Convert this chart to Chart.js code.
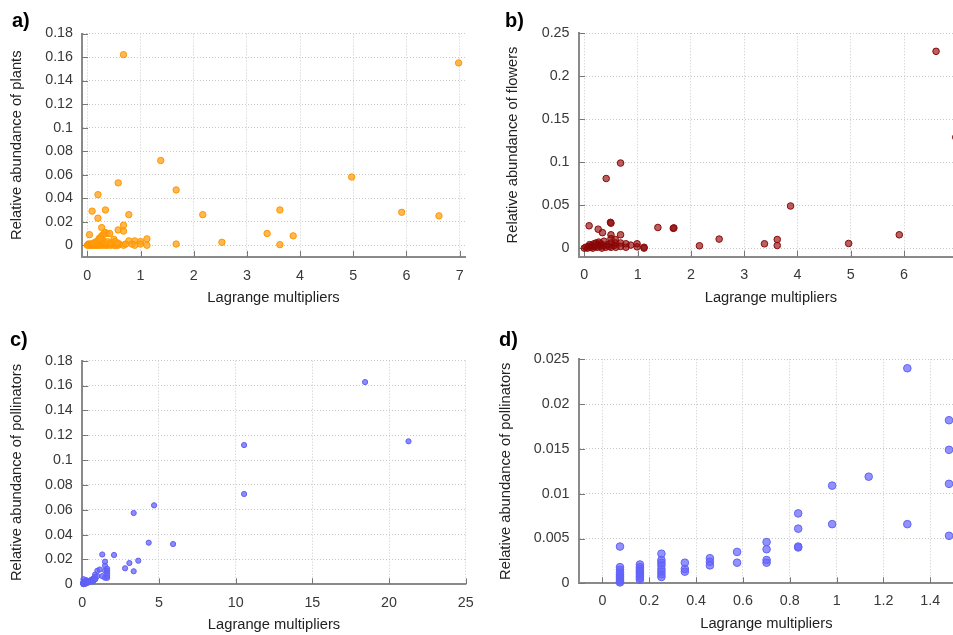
<!DOCTYPE html>
<html><head><meta charset="utf-8">
<script src="https://cdn.jsdelivr.net/npm/chart.js@4/dist/chart.umd.min.js"></script>
<style>
html,body{margin:0;padding:0;background:#fff;overflow:hidden;width:953px;height:635px;}
canvas{position:absolute;}
.lbl{position:absolute;font:bold 20px 'Liberation Sans',Arial,sans-serif;line-height:20px;color:#000;}
</style></head><body>
<canvas id="ca" width="480" height="318" style="left:0;top:0"></canvas>
<canvas id="cb" width="500" height="318" style="left:480px;top:0"></canvas>
<canvas id="cc" width="490" height="315" style="left:0;top:320px"></canvas>
<canvas id="cd" width="480" height="315" style="left:480px;top:320px"></canvas>
<div class="lbl" style="left:12px;top:10px">a)</div>
<div class="lbl" style="left:505px;top:10px">b)</div>
<div class="lbl" style="left:10px;top:329px">c)</div>
<div class="lbl" style="left:499px;top:329px">d)</div>
<script>
// ---- data ----
const plantsLm = [0.68, 6.98, 1.38, 4.97, 0.58, 1.67, 0.20, 0.34, 0.09, 0.78, 2.17, 3.62, 5.91, 6.61, 0.20, 0.27, 0.68, 0.58, 0.68, 0.33, 0.37, 0.42, 0.04, 0.27, 0.30, 3.38, 3.87, 2.53, 1.67, 3.62, 1.12, 0.78, 0.89, 1.00, 0.50,
 0.00, 0.02, 0.03, 0.05, 0.06, 0.08, 0.10, 0.11, 0.13, 0.15, 0.16, 0.18, 0.19, 0.21, 0.22, 0.24, 0.25, 0.28, 0.30, 0.32, 0.35, 0.38, 0.40, 0.44, 0.47, 0.50, 0.53, 0.56, 0.58, 0.60, 0.68, 0.72, 0.84, 0.89, 1.00, 1.12,
 0.12, 0.17, 0.20, 0.23, 0.26, 0.29, 0.34, 0.38, 0.45, 0.52, 0.57, 0.22, 0.25];
const plantsAbund = [0.162, 0.155, 0.072, 0.058, 0.053, 0.047, 0.043, 0.030, 0.029, 0.026, 0.026, 0.030, 0.028, 0.025, 0.023, 0.015, 0.017, 0.013, 0.012, 0.011, 0.010, 0.010, 0.009, 0.008, 0.009, 0.010, 0.008, 0.0025, 0.001, 0.0005, 0.0054, 0.0037, 0.0037, 0.0031, 0.005,
 0.000, 0.001, 0.000, 0.001, 0.000, 0.001, 0.000, 0.001, 0.000, 0.001, 0.000, 0.001, 0.000, 0.001, 0.000, 0.001, 0.000, 0.001, 0.000, 0.001, 0.000, 0.000, 0.001, 0.000, 0.001, 0.000, 0.000, 0.001, 0.000, 0.001, 0.000, 0.001, 0.001, 0.000, 0.001, 0.000,
 0.002, 0.003, 0.004, 0.006, 0.003, 0.004, 0.002, 0.003, 0.002, 0.003, 0.002, 0.005, 0.006];

const flowersLm = [6.60, 6.97, 0.68, 0.41, 3.87, 0.09, 0.26, 0.34, 0.50, 0.49, 1.38, 1.67, 1.68, 2.53, 3.38, 3.62, 3.62, 2.16, 4.96, 5.91, 0.68, 0.50, 0.50, 0.58,
 0.00, 0.03, 0.06, 0.08, 0.10, 0.12, 0.14, 0.16, 0.18, 0.20, 0.22, 0.24, 0.26, 0.27, 0.29, 0.31, 0.33, 0.35, 0.37, 0.40, 0.43, 0.46, 0.50, 0.50, 0.55, 0.59, 0.59, 0.68, 0.68, 0.78, 0.78, 0.87, 0.99, 0.99, 1.12, 1.12];
const flowersAbund = [0.229, 0.129, 0.099, 0.081, 0.049, 0.026, 0.022, 0.018, 0.029, 0.030, 0.024, 0.023, 0.0235, 0.0105, 0.005, 0.010, 0.003, 0.0027, 0.0054, 0.0155, 0.0155, 0.0155, 0.011, 0.010,
 0.000, 0.001, 0.000, 0.002, 0.004, 0.001, 0.003, 0.000, 0.005, 0.002, 0.006, 0.001, 0.004, 0.007, 0.002, 0.005, 0.000, 0.003, 0.008, 0.001, 0.004, 0.002, 0.006, 0.001, 0.003, 0.006, 0.001, 0.006, 0.002, 0.005, 0.001, 0.0035, 0.005, 0.0015, 0.000, 0.001];

const pollLm = [
 0.075,0.075,0.075,0.075,0.075,0.075,0.075,0.075,0.075,0.075,
 0.16,0.16,0.16,0.16,0.16,0.16,0.16,0.16,0.16,
 0.252,0.252,0.252,0.252,0.252,0.252,0.252,0.252,
 0.352,0.352,0.352,
 0.459,0.459,0.459,
 0.575,0.575,
 0.701,0.701,0.701,0.701,
 0.836,0.836,0.836,0.836,
 0.981,0.981,
 1.137,
 1.302,1.302,
 1.48,1.48,1.48,1.48,
 1.62,1.62,1.62,1.62,1.62,
 2.07,2.79,3.07,3.35,3.35,3.65,4.33,4.68,5.92,10.55,10.55,18.44,21.27];
const pollAbund = [
 0.0041,0.0018,0.0015,0.0012,0.0010,0.0008,0.0006,0.0004,0.0002,0.0001,
 0.0021,0.0018,0.0016,0.0014,0.0012,0.0010,0.0008,0.0006,0.0004,
 0.0033,0.0026,0.0023,0.0020,0.0016,0.0013,0.0010,0.0007,
 0.0023,0.0016,0.0013,
 0.0028,0.0024,0.0020,
 0.0035,0.0023,
 0.0046,0.0038,0.0026,0.0023,
 0.0078,0.0061,0.0041,0.0040,
 0.0109,0.0066,
 0.0119,
 0.0240,0.0066,
 0.0182,0.0149,0.0111,0.0053,
 0.0125,0.0108,0.0089,0.0068,0.0052,
 0.0236,0.0129,0.0171,0.0574,0.0105,0.0190,0.0335,0.0636,0.0324,0.1121,0.0727,0.1628,0.1151];

const ticksAx = [0,1,2,3,4,5,6,7];
const ticksAy = [0,0.02,0.04,0.06,0.08,0.1,0.12,0.14,0.16,0.18];
const ticksBx = [0,1,2,3,4,5,6];
const ticksBy = [0,0.05,0.1,0.15,0.2,0.25];
const ticksCx = [0,5,10,15,20,25];
const ticksCy = [0,0.02,0.04,0.06,0.08,0.1,0.12,0.14,0.16,0.18];
const ticksDx = [0,0.2,0.4,0.6,0.8,1,1.2,1.4];
const ticksDy = [0,0.005,0.01,0.015,0.02,0.025];

const xTitle = 'Lagrange multipliers';

// ---- drawing ----
Chart.defaults.font.family = "'Liberation Sans', Arial, sans-serif";
Chart.defaults.font.size = 14.3;
Chart.defaults.color = '#383838';

const fmt = v => String(parseFloat(Number(v).toFixed(6)));

const innerTicks = {
  id: 'innerTicks',
  beforeDatasetsDraw(chart) {
    const {ctx, chartArea, scales: {x, y}} = chart;
    ctx.save();
    ctx.strokeStyle = '#777';
    ctx.lineWidth = 1;
    ctx.beginPath();
    x.ticks.forEach(t => {
      const px = Math.round(x.getPixelForValue(t.value)) + 0.5;
      ctx.moveTo(px, chartArea.bottom); ctx.lineTo(px, chartArea.bottom - 6);
    });
    y.ticks.forEach(t => {
      const py = Math.round(y.getPixelForValue(t.value)) + 0.5;
      ctx.moveTo(chartArea.left, py); ctx.lineTo(chartArea.left + 6, py);
    });
    ctx.stroke();
    ctx.restore();
  }
};

function panel(id, xs, ys, xTicks, yTicks, yTitle, g, pt) {
  const data = xs.map((x, i) => ({x: x, y: ys[i]}));
  new Chart(document.getElementById(id), {
    type: 'scatter',
    data: {datasets: [{
      data: data,
      pointRadius: pt.r, pointHoverRadius: pt.r,
      pointBackgroundColor: pt.fill, pointBorderColor: pt.stroke,
      pointBorderWidth: 1, backgroundColor: pt.fill, borderColor: pt.stroke,
      clip: 10
    }]},
    options: {
      responsive: false, animation: false, devicePixelRatio: 1, events: [],
      layout: {padding: g.pad},
      plugins: {legend: {display: false}, tooltip: {enabled: false}},
      scales: {
        x: {
          type: 'linear', min: g.xmin, max: g.xmax,
          afterBuildTicks: s => { s.ticks = xTicks.map(v => ({value: v})); },
          afterFit: s => { s.height = g.xh; },
          ticks: {padding: g.xpad, autoSkip: false, maxRotation: 0, callback: fmt},
          grid: {drawTicks: false, color: '#c9c9c9', lineWidth: 1},
          border: {display: true, color: '#8a8a8a', width: 2, dash: [1, 2]},
          title: {display: true, text: xTitle, padding: 0, color: '#222', font: {size: 14.7}}
        },
        y: {
          type: 'linear', min: g.ymin, max: g.ymax,
          afterBuildTicks: s => { s.ticks = yTicks.map(v => ({value: v})); },
          afterFit: s => { s.width = g.yw; },
          ticks: {padding: g.ypad, autoSkip: false, callback: fmt},
          grid: {drawTicks: false, color: '#c9c9c9', lineWidth: 1},
          border: {display: true, color: '#8a8a8a', width: 2, dash: [1, 2]},
          title: {display: true, text: yTitle, padding: {top: g.ytp, bottom: 0}, color: '#222', font: {size: 14.7}}
        }
      }
    },
    plugins: [innerTicks]
  });
}

const orange = {r: 3.2, fill: 'rgba(255,160,20,0.75)', stroke: '#ff9600'};
const darkred = {r: 3.3, fill: 'rgba(139,0,0,0.62)', stroke: '#8a0a0a'};
const blueS = {r: 2.6, fill: 'rgba(100,100,255,0.75)', stroke: '#5f5ff5'};
const blueL = {r: 3.8, fill: 'rgba(100,100,255,0.7)', stroke: '#6262f5'};

panel('ca', plantsLm, plantsAbund, ticksAx, ticksAy, 'Relative abundance of plants',
  {xmin: -0.1, xmax: 7.1, ymin: -0.01, ymax: 0.18,
   pad: {left: 0, top: 33.5, right: 15, bottom: 11.4}, xh: 49.6, yw: 82, xpad: 10, ypad: 9, ytp: 8.4}, orange);

panel('cb', flowersLm, flowersAbund, ticksBx, ticksBy, 'Relative abundance of flowers',
  {xmin: -0.1, xmax: 7.1, ymin: -0.01, ymax: 0.25,
   pad: {left: 0, top: 33.3, right: 17.3, bottom: 11.4}, xh: 49.9, yw: 99, xpad: 10, ypad: 9.5, ytp: 24.5}, darkred);

panel('cc', pollLm, pollAbund, ticksCx, ticksCy, 'Relative abundance of pollinators',
  {xmin: 0, xmax: 25, ymin: 0, ymax: 0.18,
   pad: {left: 0, top: 40.7, right: 24.3, bottom: 1.3}, xh: 49.4, yw: 82.3, xpad: 10, ypad: 9.5, ytp: 8.4}, blueS);

panel('cd', pollLm, pollAbund, ticksDx, ticksDy, 'Relative abundance of pollinators',
  {xmin: -0.1, xmax: 1.5, ymin: 0, ymax: 0.025,
   pad: {left: 0, top: 39.3, right: 6.3, bottom: 2.3}, xh: 49.4, yw: 99, xpad: 9.5, ypad: 9.5, ytp: 17}, blueL);
</script>
</body></html>
